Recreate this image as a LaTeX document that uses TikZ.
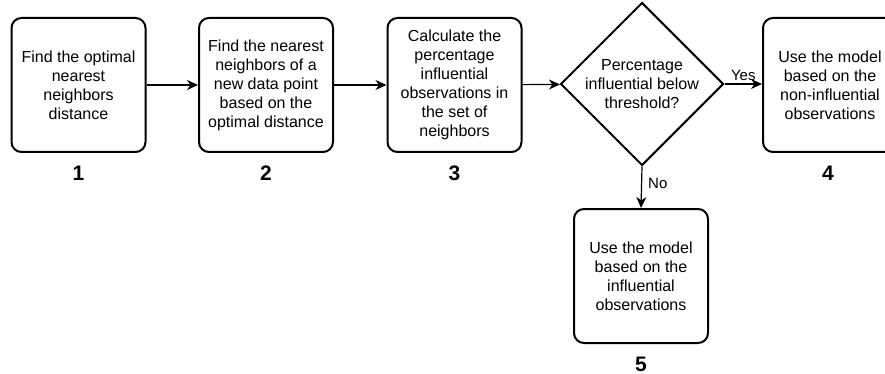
\documentclass[tikz,border=0pt]{standalone}
\usepackage{fontspec}
\setmainfont{Liberation Sans}
\usetikzlibrary{shapes.geometric,arrows.meta,calc}
\begin{document}
\begin{tikzpicture}[x=1pt,y=-1pt,
  stepbox/.style={draw, line width=2pt, rounded corners=10pt,
    minimum width=134pt, minimum height=134pt, inner sep=0pt,
    align=center, font=\fontsize{16}{19}\selectfont},
  decision/.style={draw, diamond, line width=2pt, aspect=1,
    minimum width=147pt, minimum height=147pt, inner sep=0pt,
    align=center, font=\fontsize{16}{19}\selectfont},
  numlabel/.style={font=\bfseries\fontsize{21}{24}\selectfont, inner sep=0pt},
  edgelabel/.style={font=\fontsize{15}{17}\selectfont, inner sep=2pt},
  flow/.style={line width=1.2pt, -{Stealth[length=11pt, width=10pt, inset=3.5pt]}}
]
\useasboundingbox (0,0) rectangle (885,374);
\clip (0,0) rectangle (885,374);

% process steps
\node[stepbox] (b1) at (78.5,85) {Find the optimal\\nearest\\neighbors\\distance};
\node[stepbox] (b2) at (266,85) {Find the nearest\\neighbors of a\\new data point\\based on the\\optimal distance};
\node[stepbox] (b3) at (454.5,85) {Calculate the\\percentage\\influential\\observations in\\the set of\\neighbors};
\node[decision] (d) at (642,84) {Percentage\\influential below\\threshold?};
\node[stepbox] (b4) at (830,85) {Use the model\\based on the\\non-influential\\observations};
\node[stepbox] (b5) at (641,276) {Use the model\\based on the\\influential\\observations};

% step numbers
\node[numlabel] (n1) at ($(b1.south)+(0,20)$) {1};
\node[numlabel] (n2) at ($(b2.south)+(0,20)$) {2};
\node[numlabel] (n3) at ($(b3.south)+(0,20)$) {3};
\node[numlabel] (n4) at ($(b4.south)+(-2,20)$) {4};
\node[numlabel] (n5) at ($(b5.south)+(0,20)$) {5};

% connectors
\draw[flow] (b1) -- (b2);
\draw[flow] (b2) -- (b3);
\draw[flow] (b3) -- (d);
\draw[flow] (d.east) -- node[edgelabel, above=1pt] (yes) {Yes} (b4.west |- d.east);
\draw[flow] (d.south) -- node[edgelabel, right=4pt, pos=0.4] (no) {No} (b5.north);
\end{tikzpicture}
\end{document}
